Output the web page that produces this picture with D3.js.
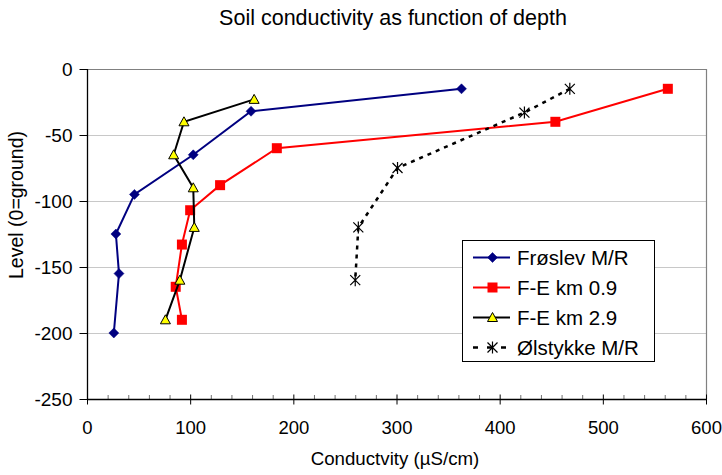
<!DOCTYPE html>
<html>
<head>
<meta charset="utf-8">
<script src="https://cdn.jsdelivr.net/npm/d3@7"></script>
<style>
  body { margin: 0; background: #fff; }
  svg { display: block; font-family: "Liberation Sans", Arial, sans-serif; }
</style>
</head>
<body>
<svg id="chart" width="722" height="475"></svg>
<script>
// Conductivity (µS/cm) and level (m, 0 = ground) per measuring site
const froslevCond = [363, 159, 103, 46, 28, 31, 26];
const froslevLevel = [-15, -32, -65, -95, -125, -155, -200];
const fe09Cond = [563, 454, 184, 129, 100, 92, 86, 92];
const fe09Level = [-15, -40, -60, -88, -107, -133, -165, -190];
const fe29Cond = [162, 94, 84, 103, 104, 90, 76];
const fe29Level = [-23, -40, -65, -90, -120, -160, -190];
const olstykkeCond = [468, 424, 301, 263, 260];
const olstykkeLevel = [-15, -33, -75, -120, -160];

const seriesNames = ["Frøslev M/R", "F-E km 0.9", "F-E km 2.9", "Ølstykke M/R"];
const xTicks = [0, 100, 200, 300, 400, 500, 600];
const yTicks = [0, -50, -100, -150, -200, -250];

const svg = d3.select("#chart");
const pLeft = 87, pRight = 706, pTop = 69, pBottom = 399;

const x = d3.scaleLinear().domain([0, 600]).range([pLeft, pRight]);
const y = d3.scaleLinear().domain([0, -250]).range([pTop, pBottom]);

// title
svg.append("text").attr("x", 393).attr("y", 25).attr("text-anchor", "middle")
  .attr("font-size", 21.5).attr("fill", "#000").text("Soil conductivity as function of depth");

// horizontal grid
svg.append("g").selectAll("line").data(yTicks.filter(t => t !== -250)).join("line")
  .attr("x1", pLeft).attr("x2", pRight)
  .attr("y1", d => y(d) + 0.5).attr("y2", d => y(d) + 0.5)
  .attr("stroke", "#c8c8c8").attr("stroke-width", 1.2);

// plot frame (top and right)
svg.append("path")
  .attr("d", `M${pLeft},${pTop + 0.5}H${pRight + 0.5}V${pBottom}`)
  .attr("fill", "none").attr("stroke", "#808080").attr("stroke-width", 1.2);

// x axis: minor ticks every 20
const minor = d3.range(20, 600, 20).filter(v => v % 100 !== 0);
svg.append("g").selectAll("line").data(minor).join("line")
  .attr("x1", d => x(d) + 0.5).attr("x2", d => x(d) + 0.5)
  .attr("y1", pBottom - 4).attr("y2", pBottom)
  .attr("stroke", "#707070").attr("stroke-width", 1);

const xAxis = svg.append("g").attr("transform", `translate(0,${pBottom + 0.5})`)
  .call(d3.axisBottom(x).tickValues(xTicks).tickSize(5).tickPadding(16).tickFormat(d3.format("d")));
xAxis.select(".domain").attr("stroke", "#000").attr("stroke-width", 1.3).attr("d", `M${pLeft},0H${pRight}`);
xAxis.selectAll(".tick line").attr("y1", -5).attr("y2", 5).attr("stroke", "#000");
xAxis.selectAll(".tick text").attr("font-size", 18.5).attr("font-family", "Liberation Sans, Arial, sans-serif").attr("fill", "#000");

const yAxis = svg.append("g").attr("transform", `translate(${pLeft + 0.5},0)`)
  .call(d3.axisLeft(y).tickValues(yTicks).tickSize(8).tickPadding(7).tickFormat(d => d === 0 ? "0" : "-" + Math.abs(d)));
yAxis.select(".domain").attr("stroke", "#000").attr("stroke-width", 1.3).attr("d", `M0,${pTop}V${pBottom}`);
yAxis.selectAll(".tick line").attr("stroke", "#000");
yAxis.selectAll(".tick text").attr("font-size", 19).attr("font-family", "Liberation Sans, Arial, sans-serif").attr("fill", "#000");

// axis titles
svg.append("text").attr("x", 395).attr("y", 465).attr("text-anchor", "middle")
  .attr("font-size", 18.7).text("Conductvity (µS/cm)");
svg.append("text").attr("transform", `translate(23,205) rotate(-90)`)
  .attr("text-anchor", "middle").attr("font-size", 19.5).text("Level (0=ground)");

// series
const series = [
  { name: seriesNames[0], cond: froslevCond, level: froslevLevel, color: "#000080", marker: "diamond" },
  { name: seriesNames[1], cond: fe09Cond, level: fe09Level, color: "#ff0000", marker: "square" },
  { name: seriesNames[2], cond: fe29Cond, level: fe29Level, color: "#000000", marker: "triangle" },
  { name: seriesNames[3], cond: olstykkeCond, level: olstykkeLevel, color: "#000000", marker: "star", dashed: true }
];

const line = d3.line().x(d => x(d[0])).y(d => y(d[1]));

function drawMarker(g, type, cx, cy) {
  if (type === "diamond") {
    g.append("path").attr("d", `M${cx},${cy - 5}L${cx + 5},${cy}L${cx},${cy + 5}L${cx - 5},${cy}Z`)
      .attr("fill", "#000080").attr("stroke", "#000080").attr("stroke-width", 0.5);
  } else if (type === "square") {
    g.append("rect").attr("x", cx - 5).attr("y", cy - 5).attr("width", 10).attr("height", 10)
      .attr("fill", "#ff0000");
  } else if (type === "triangle") {
    g.append("path").attr("d", `M${cx},${cy - 5}L${cx + 5},${cy + 4}L${cx - 5},${cy + 4}Z`)
      .attr("fill", "#ffff00").attr("stroke", "#000").attr("stroke-width", 1);
  } else if (type === "star") {
    const r = 5;
    g.append("path")
      .attr("d", `M${cx - r},${cy - r}L${cx + r},${cy + r}M${cx - r},${cy + r}L${cx + r},${cy - r}M${cx},${cy - r - 1}L${cx},${cy + r + 1}`)
      .attr("stroke", "#000").attr("stroke-width", 1.2).attr("fill", "none");
  }
}

const plot = svg.append("g");
series.forEach(s => {
  const pts = s.cond.map((c, i) => [c, s.level[i]]);
  plot.append("path").datum(pts).attr("d", line)
    .attr("fill", "none").attr("stroke", s.color)
    .attr("stroke-width", s.dashed ? 2.5 : 2)
    .attr("stroke-dasharray", s.dashed ? "4,5" : null);
  const mg = plot.append("g");
  pts.forEach(p => drawMarker(mg, s.marker, x(p[0]), y(p[1])));
});

// legend
const lg = svg.append("g");
lg.append("rect").attr("x", 462.5).attr("y", 240.5).attr("width", 192).attr("height", 121)
  .attr("fill", "#fff").attr("stroke", "#000").attr("stroke-width", 1);
series.forEach((s, i) => {
  const cy = 257.5 + i * 30;
  lg.append("line").attr("x1", 473).attr("x2", 510).attr("y1", cy).attr("y2", cy)
    .attr("stroke", s.color).attr("stroke-width", s.dashed ? 2.5 : 2)
    .attr("stroke-dasharray", s.dashed ? "5,9" : null);
  drawMarker(lg, s.marker, 492.5, cy);
  lg.append("text").attr("x", 517).attr("y", cy + 7).attr("font-size", 20.5).text(s.name);
});
</script>
</body>
</html>
